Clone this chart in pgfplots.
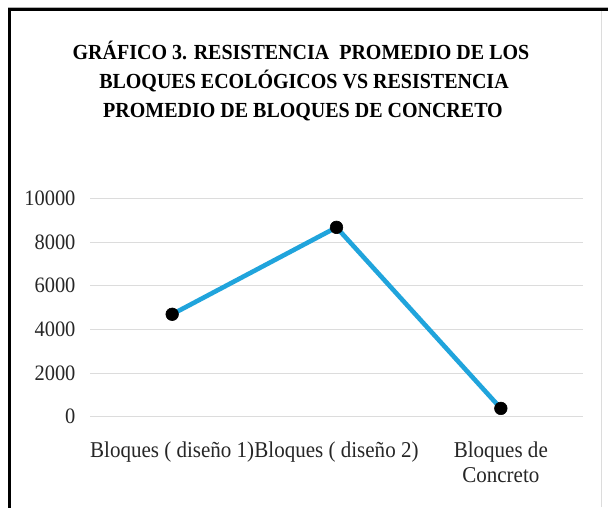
\documentclass[border=0pt]{standalone}
\usepackage{fontspec}
\setmainfont{Liberation Serif}[FakeStretch=0.93]
\usepackage{pgfplots}
\pgfplotsset{compat=1.18}
\definecolor{linecol}{RGB}{32,164,220}
\definecolor{gridcol}{RGB}{220,220,220}
\begin{document}
\begin{tikzpicture}
\path[use as bounding box] (0pt,0pt) rectangle (608pt,507pt);
\fill[white] (0pt,0pt) rectangle (608pt,507pt);
\draw[gridcol!80!black, line width=0.8pt] (8pt,499.8pt) -- (608pt,499.8pt);
\draw[black, line width=2.7pt] (9.7pt,-5pt) -- (9.7pt,497.3pt) -- (615pt,497.3pt);
\draw[gridcol, line width=0.8pt] (601pt,0pt) -- (601pt,496pt);
\node[anchor=base, font=\fontsize{21.5}{29}\selectfont\bfseries] at (301pt,447.7pt) {GRÁFICO 3. RESISTENCIA\ \ PROMEDIO DE LOS};
\node[anchor=base, font=\fontsize{21.5}{29}\selectfont\bfseries] at (304pt,418.7pt) {BLOQUES ECOLÓGICOS VS RESISTENCIA};
\node[anchor=base, font=\fontsize{21.5}{29}\selectfont\bfseries] at (303pt,389.5pt) {PROMEDIO DE BLOQUES DE CONCRETO};
\begin{axis}[
  at={(90pt,90.3pt)}, anchor=south west,
  scale only axis, width=493pt, height=218.4pt,
  xmin=-0.5, xmax=2.5, ymin=0, ymax=10000,
  axis line style={draw=none},
  ymajorgrids, grid style={gridcol, line width=0.9pt},
  major tick style={draw=none},
  ytick={0,2000,4000,6000,8000,10000},
  scaled y ticks=false,
  xtick={0,1,2},
  xticklabels={{Bloques ( diseño 1)},{Bloques ( diseño 2)},{Bloques de\\Concreto}},
  /pgf/number format/assume math mode=true,
  /pgf/number format/1000 sep={},
  yticklabel style={font=\fontsize{22}{24.3}\selectfont, text=black!85, anchor=east, xshift=-11pt},
  xticklabel style={font=\fontsize{22.6}{24.3}\selectfont, text=black!85, align=center, anchor=north, yshift=-22pt},
  clip=false,
]
\addplot[linecol, line width=4.6pt, mark=*, mark size=6.3pt, mark options={fill=black, draw=black, line width=0.6pt}] coordinates {
  (0,4690) (1,8670) (2,380)
};
\end{axis}
\end{tikzpicture}
\end{document}
